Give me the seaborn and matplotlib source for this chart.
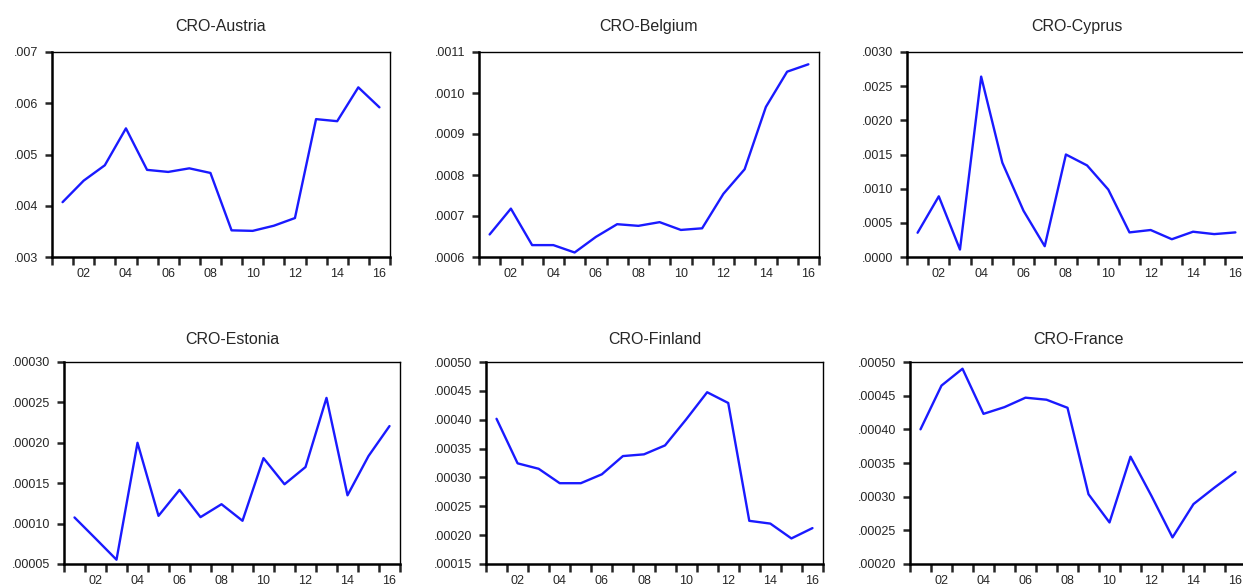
import numpy as np
import matplotlib
matplotlib.use("Agg")
import matplotlib.pyplot as plt
import matplotlib.ticker as mticker
import seaborn as sns

# --------------------------------------------
# Data (annual, 2001-2016)
# --------------------------------------------
years = list(range(2001, 2017))

austria = [0.00407, 0.00449, 0.00479, 0.00551, 0.00470, 0.00466, 0.00473, 0.00464,
           0.00352, 0.00351, 0.00361, 0.00376, 0.00569, 0.00565, 0.00631, 0.00592]
belgium = [0.000655, 0.000718, 0.000629, 0.000629, 0.000611, 0.000649, 0.000680, 0.000676,
           0.000685, 0.000666, 0.000670, 0.000754, 0.000814, 0.000966, 0.001052, 0.001070]
cyprus = [0.000355, 0.000888, 0.000109, 0.00264, 0.00138, 0.000676, 0.000158, 0.00150,
          0.00134, 0.000987, 0.000360, 0.000395, 0.000260, 0.000370, 0.000335, 0.000360]
estonia = [0.0001076, 0.0000816, 0.0000553, 0.000200, 0.0001096, 0.0001417, 0.000108, 0.000124,
           0.0001035, 0.000181, 0.0001487, 0.000170, 0.0002556, 0.000135, 0.0001836, 0.0002207]
finland = [0.0004016, 0.0003244, 0.000315, 0.000290, 0.000290, 0.0003054, 0.000337, 0.000340,
           0.0003555, 0.0004004, 0.0004476, 0.000429, 0.0002248, 0.000220, 0.0001943, 0.0002122]
france = [0.000400, 0.000465, 0.000490, 0.000423, 0.000433, 0.000447, 0.000444, 0.000432,
          0.0003036, 0.0002617, 0.0003594, 0.000301, 0.0002395, 0.000289, 0.0003135, 0.0003367]

titles = ["CRO-Austria", "CRO-Belgium", "CRO-Cyprus",
          "CRO-Estonia", "CRO-Finland", "CRO-France"]
series = [austria, belgium, cyprus, estonia, finland, france]

# y-axis settings per panel: (low, high, step, decimals)
y_axes = [(0.003, 0.007, 0.001, 3),
          (0.0006, 0.0011, 0.0001, 4),
          (0.0, 0.0030, 0.0005, 4),
          (0.00005, 0.00030, 0.00005, 5),
          (0.00015, 0.00050, 0.00005, 5),
          (0.00020, 0.00050, 0.00005, 5)]

even_years = [2002, 2004, 2006, 2008, 2010, 2012, 2014, 2016]
year_labels = ["02", "04", "06", "08", "10", "12", "14", "16"]

# --------------------------------------------
# Figure layout (pixel boxes: left, right, top, bottom)
# --------------------------------------------
W, H = 1243, 585
boxes = [(52, 390, 52, 257), (479, 819, 52, 257), (907, 1246, 52, 257),
         (64, 400, 362, 564), (486, 823, 362, 564), (910, 1246, 362, 564)]

sns.set_style("white")
plt.rcParams['font.family'] = ['Liberation Sans', 'DejaVu Sans']

fig = plt.figure(figsize=(W / 100, H / 100), dpi=100)

for i, (title, vals) in enumerate(zip(titles, series)):
    l, r, t, b = boxes[i]
    ax = fig.add_axes([l / W, 1 - b / H, (r - l) / W, (b - t) / H])
    sns.lineplot(x=years, y=vals, ax=ax, color="#1a1aff", linewidth=1.7)

    lo, hi, step, dec = y_axes[i]
    ax.set_xlim(2000.5, 2016.5)
    ax.set_ylim(lo, hi)
    ax.set_yticks(np.arange(lo, hi + step / 2, step))
    ax.yaxis.set_major_formatter(
        mticker.FuncFormatter(lambda v, p, d=dec: f"{v:.{d}f}".replace("0.", ".", 1)))

    # tick marks at year boundaries, labels at even years
    ax.set_xticks(np.arange(2000.5, 2017, 1.0))
    ax.set_xticklabels([])
    ax.set_xticks(even_years, minor=True)
    ax.set_xticklabels(year_labels, minor=True)
    ax.tick_params(axis="x", which="major", direction="out", length=6, width=1.8,
                   bottom=True)
    ax.tick_params(axis="x", which="minor", length=0, pad=8, labelsize=9)
    ax.tick_params(axis="y", which="major", direction="out", length=5, width=1.8,
                   left=True, pad=5, labelsize=9)

    for side in ["left", "bottom"]:
        ax.spines[side].set_linewidth(1.8)
    for side in ["top", "right"]:
        ax.spines[side].set_linewidth(1.0)
    for sp in ax.spines.values():
        sp.set_color("black")
        sp.set_visible(True)

    ax.set_xlabel("")
    ax.set_ylabel("")
    ax.set_title(title, fontsize=11.5, pad=15 if i < 3 else 13)

plt.savefig("out.png", dpi=100)
plt.close()
